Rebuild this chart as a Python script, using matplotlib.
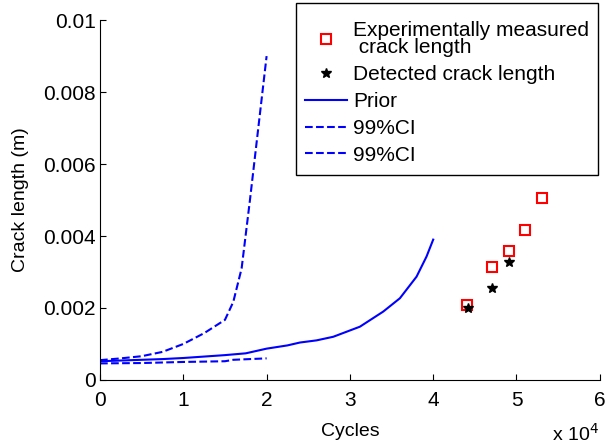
import matplotlib

matplotlib.use("Agg")
import matplotlib.pyplot as plt
from matplotlib.patches import Rectangle
from matplotlib.ticker import FuncFormatter

plt.rcParams["font.family"] = ["Liberation Sans", "DejaVu Sans"]
plt.rcParams["font.size"] = 14

# prior prediction and 99% bounds (cycles, crack length in m)
prior_cycles = [0, 2500, 5000, 7500, 10000, 12500, 15000, 17500, 20000, 22500,
                24000, 26000, 28000, 31200, 34000, 36000, 38000, 39200, 40000]
prior_len = [0.00052, 0.00054, 0.00056, 0.00058, 0.00061, 0.00065, 0.00069, 0.00074,
             0.00087, 0.00096, 0.00104, 0.00110, 0.0012, 0.00148, 0.0019, 0.00227,
             0.00287, 0.00343, 0.0039]

ci_upper_cycles = [0, 2500, 5000, 7500, 10000, 12500, 15000, 16000, 17000, 18000,
                   19000, 20000]
ci_upper_len = [0.00055, 0.0006, 0.00066, 0.00078, 0.00100, 0.0013, 0.00167, 0.00217,
                0.0031, 0.005, 0.007, 0.009]

ci_lower_cycles = [0, 5000, 10000, 15000, 16000, 20000]
ci_lower_len = [0.00046, 0.00047, 0.0005, 0.00052, 0.00056, 0.0006]

measured_cycles = [44100, 47100, 49100, 51000, 53100]
measured_len = [0.00208, 0.00315, 0.00358, 0.00416, 0.00507]

detected_cycles = [44200, 47100, 49100]
detected_len = [0.00199, 0.00256, 0.00327]

fig = plt.figure(figsize=(6.08, 4.47), dpi=100)
ax = fig.add_axes([0.1645, 0.15, 0.822, 0.805])

h_meas, = ax.plot(measured_cycles, measured_len, "s", mfc="none", mec="red",
                  mew=1.5, ms=7, ls="none", label="Experimentally measured\n crack length")
h_det, = ax.plot(detected_cycles, detected_len, "*", color="black", ms=7, ls="none",
                 label="Detected crack length")
h_prior, = ax.plot(prior_cycles, prior_len, "-", color="blue", lw=1.5, label="Prior")
h_up, = ax.plot(ci_upper_cycles, ci_upper_len, "--", color="blue", lw=1.5, label="99%CI")
h_lo, = ax.plot(ci_lower_cycles, ci_lower_len, "--", color="blue", lw=1.5, label="99%CI")

ax.set_xlim(0, 60000)
ax.set_ylim(0, 0.01)
ax.set_xticks(range(0, 60001, 10000))
ax.set_yticks([0, 0.002, 0.004, 0.006, 0.008, 0.01])
ax.xaxis.set_major_formatter(FuncFormatter(lambda v, p: f"{v / 1e4:g}"))
ax.yaxis.set_major_formatter(FuncFormatter(lambda v, p: f"{v:g}"))
ax.tick_params(direction="in", length=4, labelsize=15)
ax.tick_params(axis="x", pad=8)
ax.tick_params(axis="y", pad=3)
ax.spines["top"].set_visible(False)
ax.spines["right"].set_visible(False)
ax.set_xlabel("Cycles", fontsize=14, labelpad=9)
ax.set_ylabel("Crack length (m)", fontsize=14, labelpad=10)
fig.text(0.985, 0.006, r"x 10$^4$", ha="right", va="bottom", fontsize=14)

# legend box sits partly above the axes, drawn as a separate frame
fig.patches.append(Rectangle((296 / 608, 1 - 175 / 447), 302 / 608, 172 / 447,
                             transform=fig.transFigure, fill=False,
                             edgecolor="black", linewidth=1.0))
leg = fig.legend(handles=[h_meas, h_det, h_prior, h_up, h_lo],
                 loc="upper left", bbox_to_anchor=(0.5016, 0.954), fontsize=15,
                 frameon=False, handlelength=2.0, borderpad=0, labelspacing=0.38,
                 handletextpad=0.3, borderaxespad=0)
leg.get_texts()[0].set_linespacing(0.9)

fig.savefig("out.png", dpi=100)
